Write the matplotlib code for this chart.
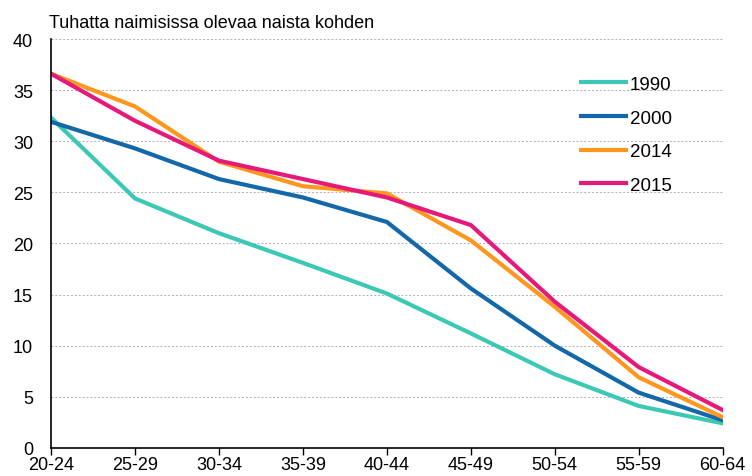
import matplotlib.pyplot as plt

plt.rcParams['font.family'] = ['Liberation Sans', 'DejaVu Sans']

ages = ["20-24", "25-29", "30-34", "35-39", "40-44", "45-49", "50-54", "55-59", "60-64"]
v1990 = [32.3, 24.4, 21.0, 18.1, 15.1, 11.2, 7.2, 4.1, 2.4]
v2000 = [31.9, 29.3, 26.3, 24.5, 22.1, 15.6, 10.0, 5.4, 2.7]
v2014 = [36.6, 33.4, 28.0, 25.6, 24.9, 20.3, 13.8, 6.9, 3.0]
v2015 = [36.6, 32.0, 28.1, 26.3, 24.5, 21.8, 14.3, 7.9, 3.7]

fig = plt.figure(figsize=(7.52, 4.77), dpi=100)
ax = fig.add_axes([0.068, 0.059, 0.893, 0.857])

x = range(len(ages))
ax.plot(x, v1990, color="#3cc8b4", lw=3, label="1990")
ax.plot(x, v2000, color="#1368aa", lw=3, label="2000")
ax.plot(x, v2014, color="#ff961e", lw=3, label="2014")
ax.plot(x, v2015, color="#e6197a", lw=3, label="2015")

ax.set_xlim(0, len(ages) - 1)
ax.set_ylim(0, 40)
ax.set_xticks(list(x))
ax.set_xticklabels(ages)
ax.set_yticks(range(0, 41, 5))
ax.tick_params(axis="y", length=0, labelsize=13, pad=13)
ax.tick_params(axis="x", length=5, width=1, labelsize=13, pad=1)
ax.grid(axis="y", color="#b0b0b0", linestyle=(0, (2, 2)), lw=0.7)
ax.set_axisbelow(True)
for s in ["top", "right"]:
    ax.spines[s].set_visible(False)
ax.spines["left"].set_linewidth(1.2)
ax.spines["bottom"].set_linewidth(1.2)

ax.legend(loc="upper left", bbox_to_anchor=(0.7726, 0.839), bbox_transform=fig.transFigure,
          frameon=False, borderpad=0, borderaxespad=0, fontsize=13.5,
          handlelength=2.4, handletextpad=0.22, labelspacing=0.88)

fig.text(0.065, 0.941, "Tuhatta naimisissa olevaa naista kohden", fontsize=13, va="baseline")

fig.savefig("out.png", dpi=100)
